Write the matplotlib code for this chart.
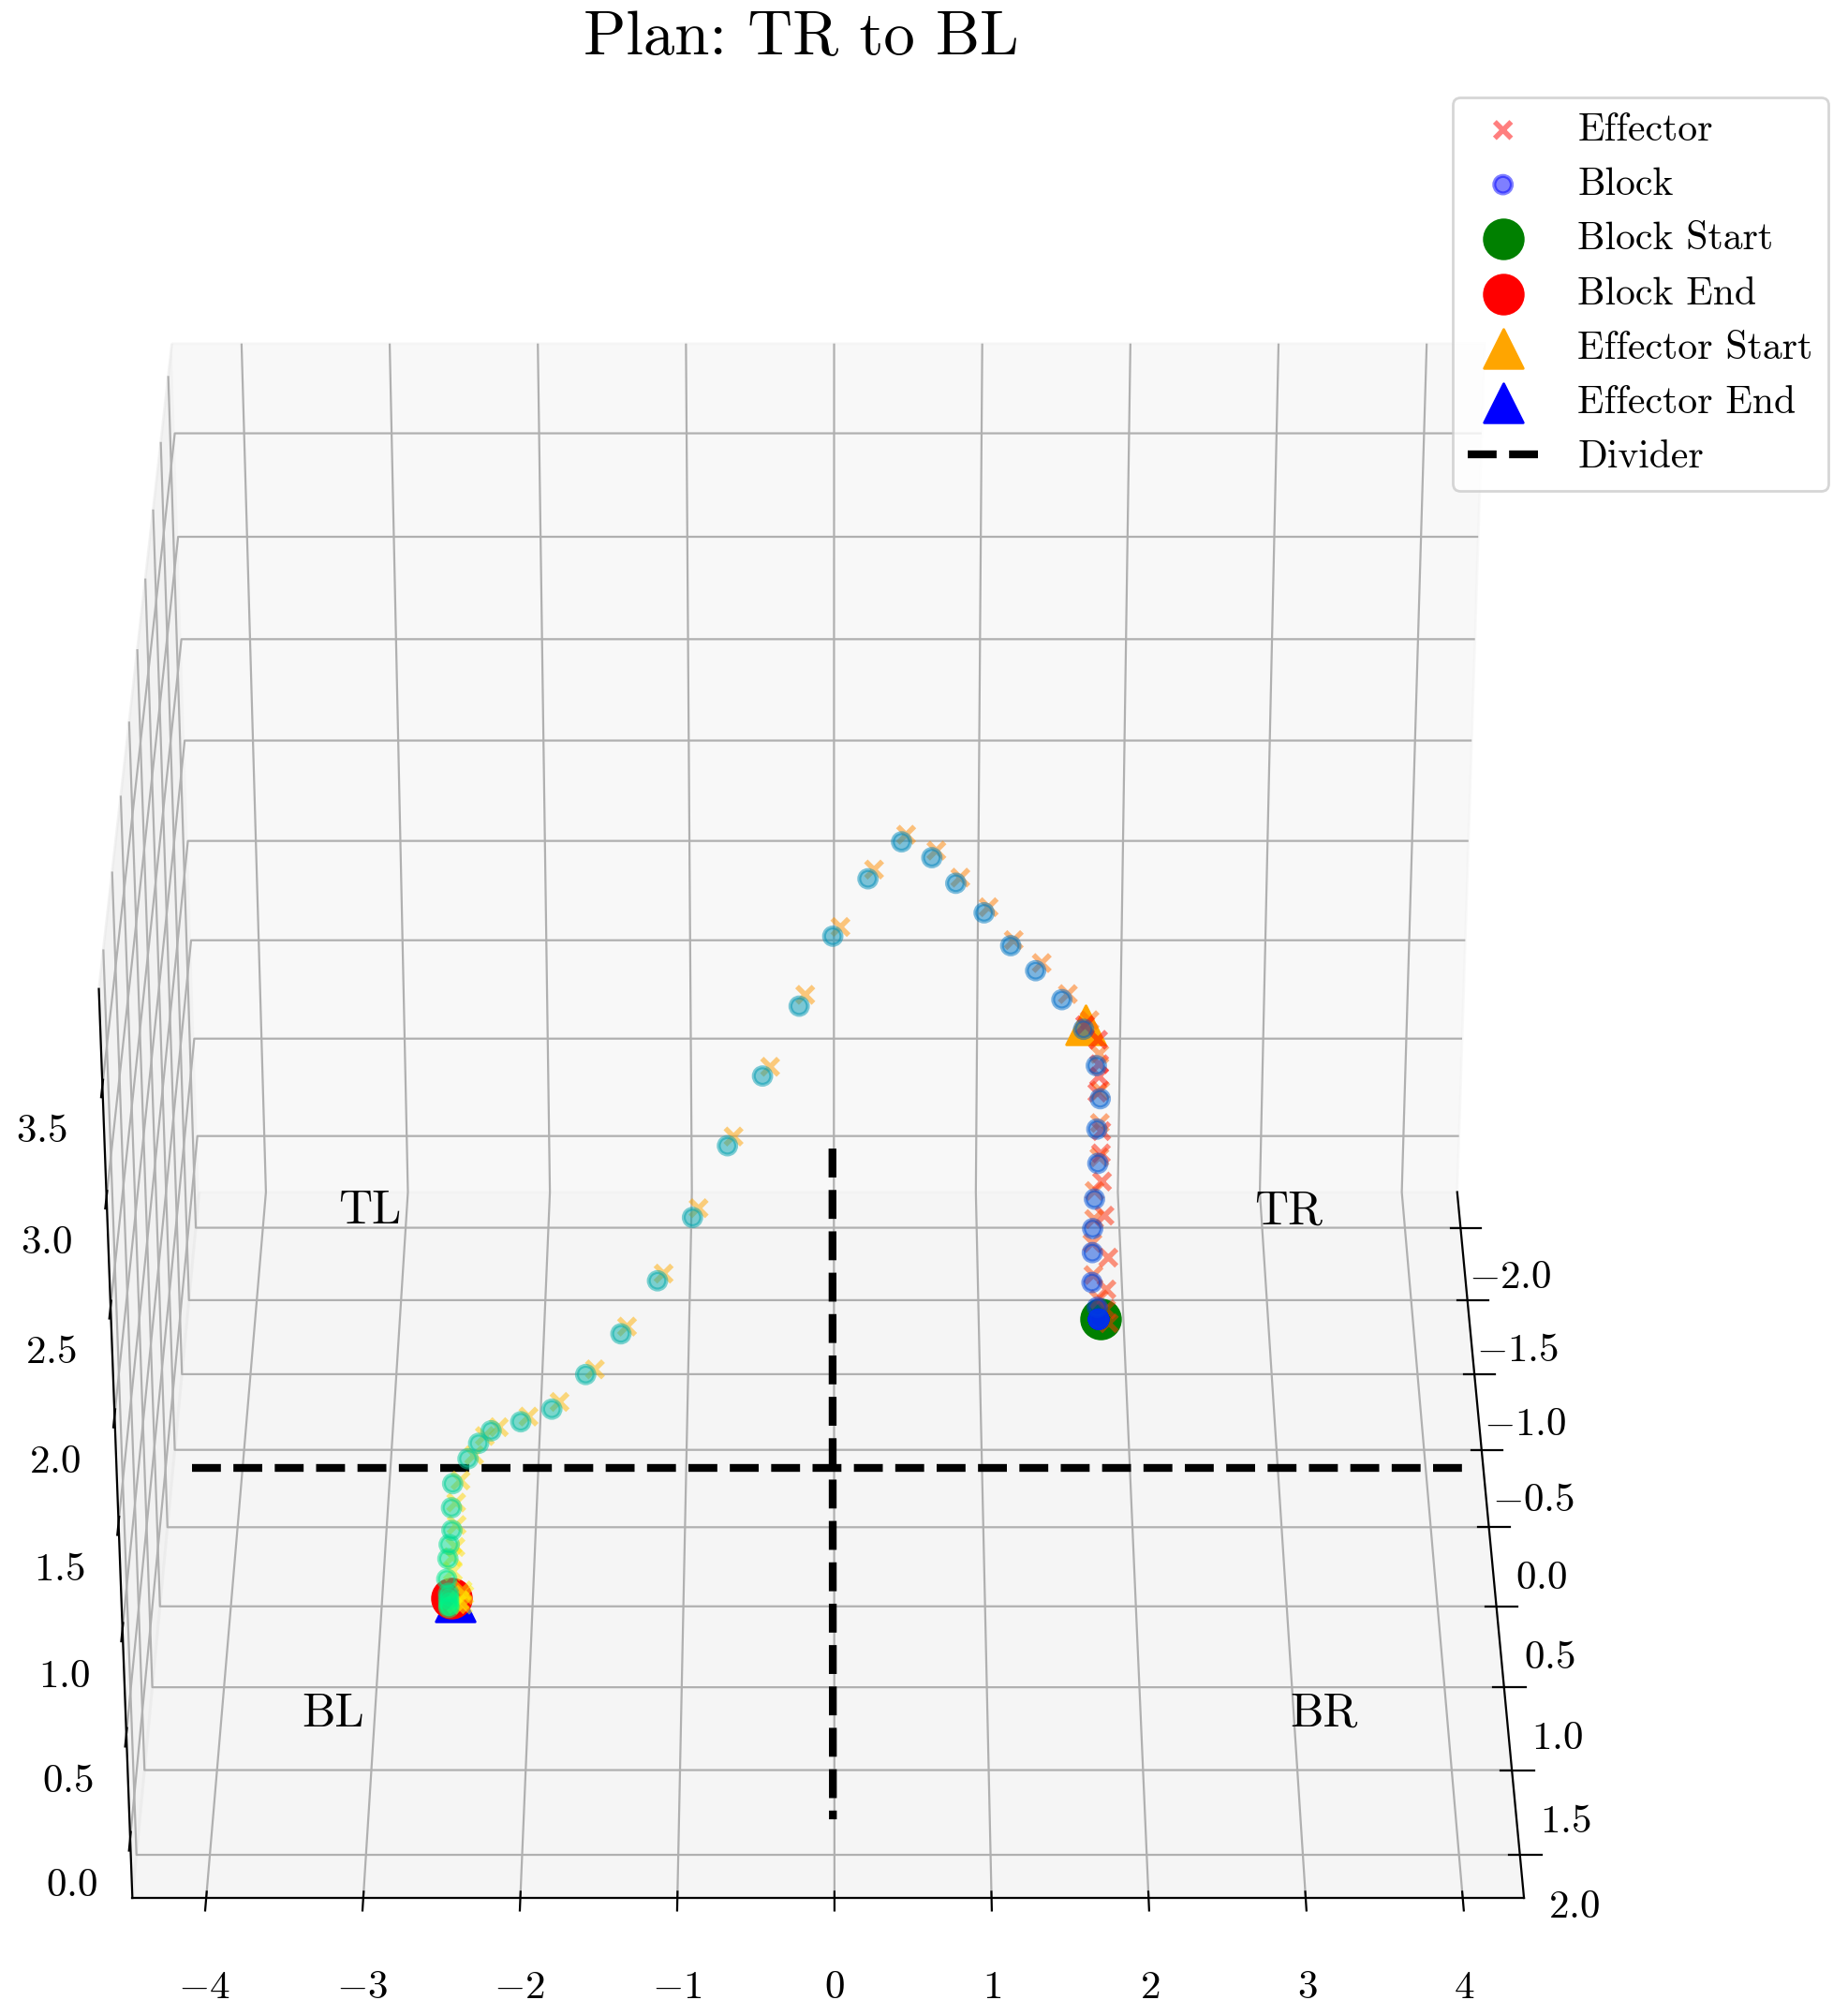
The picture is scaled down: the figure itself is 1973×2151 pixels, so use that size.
import numpy as np
import matplotlib
matplotlib.use("Agg")
import matplotlib.pyplot as plt

plt.rcParams['font.family'] = ['cmr10']
plt.rcParams['mathtext.fontset'] = 'cm'
plt.rcParams['axes.unicode_minus'] = False

x_ticks = [-2.0, -1.5, -1.0, -0.5, 0.0, 0.5, 1.0, 1.5, 2.0]
y_ticks = [-4, -3, -2, -1, 0, 1, 2, 3, 4]
z_ticks = [0.0, 0.5, 1.0, 1.5, 2.0, 2.5, 3.0, 3.5]

# block waits at the start while the effector comes down
block_x = [-0.84, -0.84, -0.84, -0.84, -0.84, -0.84, -0.84, -0.84, -0.84, -0.84, -0.84, -0.84,
           -0.84, -0.84, -0.82, -0.82, -0.82, -0.83, -0.84, -0.84, -0.84, -0.83, -0.80, -0.75,
           -0.68, -0.61, -0.55, -0.48, -0.41, -0.33, -0.25, -0.16, -0.07, 0.02, 0.11, 0.20,
           0.29, 0.38, 0.47, 0.56, 0.64, 0.71, 0.75, 0.77, 0.81, 0.82, 0.82, 0.82,
           0.82, 0.82, 0.82, 0.82, 0.82, 0.82, 0.82]
block_y = [1.80, 1.80, 1.80, 1.80, 1.80, 1.80, 1.80, 1.80, 1.80, 1.80, 1.80, 1.80,
           1.80, 1.79, 1.75, 1.75, 1.75, 1.76, 1.78, 1.77, 1.79, 1.76, 1.67, 1.52,
           1.34, 1.17, 0.99, 0.80, 0.64, 0.44, 0.22, -0.01, -0.23, -0.47, -0.70, -0.93,
           -1.16, -1.40, -1.63, -1.85, -2.05, -2.24, -2.32, -2.39, -2.49, -2.50, -2.50, -2.52,
           -2.53, -2.54, -2.53, -2.53, -2.53, -2.53, -2.53]
block_z = [0.11, 0.11, 0.11, 0.11, 0.11, 0.11, 0.11, 0.11, 0.11, 0.11, 0.11, 0.11,
           0.11, 0.17, 0.31, 0.46, 0.58, 0.72, 0.89, 1.06, 1.21, 1.38, 1.58, 1.76,
           1.95, 2.12, 2.32, 2.51, 2.68, 2.81, 2.69, 2.48, 2.21, 1.94, 1.67, 1.39,
           1.15, 0.96, 0.83, 0.73, 0.73, 0.74, 0.71, 0.65, 0.56, 0.45, 0.34, 0.27,
           0.20, 0.10, 0.03, 0.01, -0.01, -0.03, -0.04]

effector_x = [-0.80, -0.84, -0.84, -0.84, -0.84, -0.84, -0.84, -0.84, -0.84, -0.84, -0.84, -0.84,
              -0.84, -0.84, -0.83, -0.83, -0.83, -0.83, -0.84, -0.84, -0.84, -0.84, -0.82, -0.76,
              -0.69, -0.62, -0.56, -0.49, -0.43, -0.35, -0.27, -0.18, -0.09, 0.00, 0.09, 0.18,
              0.27, 0.36, 0.45, 0.54, 0.62, 0.70, 0.73, 0.76, 0.79, 0.80, 0.80, 0.81,
              0.81, 0.81, 0.79, 0.78, 0.79, 0.79, 0.80]
effector_y = [1.68, 1.77, 1.78, 1.78, 1.77, 1.80, 1.80, 1.81, 1.83, 1.86, 1.85, 1.85,
              1.87, 1.80, 1.76, 1.75, 1.76, 1.76, 1.79, 1.79, 1.79, 1.78, 1.71, 1.56,
              1.38, 1.19, 1.02, 0.83, 0.67, 0.47, 0.26, 0.04, -0.19, -0.42, -0.66, -0.89,
              -1.12, -1.36, -1.57, -1.80, -2.00, -2.19, -2.28, -2.35, -2.44, -2.47, -2.47, -2.48,
              -2.50, -2.50, -2.44, -2.43, -2.46, -2.44, -2.48]
effector_z = [1.60, 1.50, 1.38, 1.32, 1.24, 1.05, 0.94, 0.80, 0.63, 0.42, 0.26, 0.16,
              0.09, 0.21, 0.34, 0.50, 0.62, 0.76, 0.92, 1.09, 1.25, 1.43, 1.61, 1.78,
              1.98, 2.14, 2.34, 2.53, 2.70, 2.83, 2.72, 2.51, 2.25, 1.97, 1.70, 1.42,
              1.17, 0.98, 0.84, 0.75, 0.74, 0.75, 0.73, 0.66, 0.56, 0.46, 0.35, 0.25,
              0.20, 0.13, 0.02, -0.01, -0.03, -0.05, -0.04]

block_start = (-0.84, 1.81, 0.11)
block_end = (0.81, -2.51, 0.00)
effector_start = (-0.80, 1.68, 1.60)
effector_end = (0.81, -2.49, -0.02)

quadrants = ['TL', 'TR', 'BL', 'BR']
quadrant_x = [-1.72, -1.72, 1.52, 1.52]
quadrant_y = [-3.44, 2.92, -3.44, 2.94]

fig = plt.figure(figsize=(9.865, 10.755), dpi=200)
ax = fig.add_axes([-0.1352, -0.080, 1.136, 1.042], projection='3d')
ax.computed_zorder = False
ax.view_init(elev=30, azim=0)
ax.set_xlim(-2.25, 2.25)
ax.set_ylim(-4.47, 4.39)
ax.set_zlim(-0.29, 3.93)

steps = np.linspace(0, 1, len(block_x))
block_colors = plt.cm.winter(steps)
ax.scatter(effector_x, effector_y, effector_z, c=plt.cm.autumn(steps), marker='x', s=40, linewidths=2,
           alpha=0.5, depthshade=False, label='Effector', zorder=5)
ax.scatter(block_x, block_y, block_z, facecolors=block_colors, edgecolors=block_colors, marker='o', s=45,
           linewidths=1.5, alpha=0.5, depthshade=False, label='Block', zorder=6)
ax.scatter(*block_start, c='green', s=225, depthshade=False, label='Block Start', zorder=4)
ax.scatter(*block_end, c='red', s=225, depthshade=False, label='Block End', zorder=4)
ax.scatter(*effector_start, c='orange', s=225, marker='^', depthshade=False, label='Effector Start', zorder=3)
ax.scatter(*effector_end, c='blue', s=225, marker='^', depthshade=False, label='Effector End', zorder=3)

ax.plot([0, 0], [-4.29, 4.26], [0.008, 0.008], 'k--', lw=3, label='Divider', zorder=2)
ax.plot([-2.15, 2.15], [-0.01, -0.01], [0.008, 0.008], 'k--', lw=3, zorder=2)

for name, qx, qy in zip(quadrants, quadrant_x, quadrant_y):
    ax.text(qx, qy, 0, name, fontsize=18, ha='left', va='center', zorder=7)

ax.set_xticks(x_ticks, [f'${v:.1f}$' for v in x_ticks], fontsize=15.5)
ax.set_yticks(y_ticks, [f'${v}$' for v in y_ticks], fontsize=15.5)
ax.set_zticks(z_ticks, [f'${v:.1f}$' for v in z_ticks], fontsize=15.5)
ax.xaxis.set_tick_params(pad=9)
ax.yaxis.set_tick_params(pad=10.5)
ax.zaxis.set_tick_params(pad=8.5)

fig.text(0.4335, 0.9945, 'Plan: TR to BL', fontsize=24, ha='center', va='top')
fig.legend(loc='upper right', bbox_to_anchor=(1.0, 0.9615), fontsize=15,
           handlelength=1.8, handletextpad=1.01, labelspacing=0.5)
fig.savefig('out.png', dpi=200)
